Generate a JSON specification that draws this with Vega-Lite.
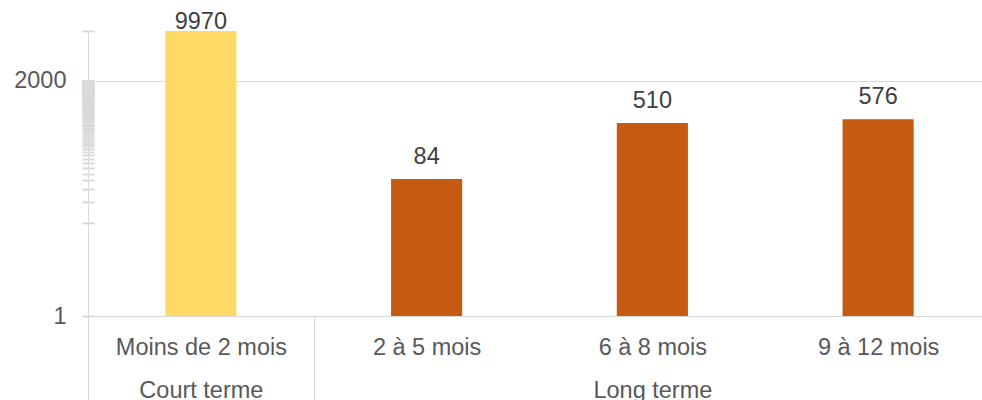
{
  "$schema": "https://vega.github.io/schema/vega-lite/v6.json",
  "width": 894,
  "height": 285,
  "autosize": {"type": "none"},
  "padding": {"left": 88, "top": 31, "right": 0, "bottom": 84},
  "background": "white",
  "config": {"view": {"stroke": null}, "font": "Liberation Sans"},
  "data": {
    "values": [
      {"periode": "Moins de 2 mois", "terme": "Court terme", "count": 9970},
      {"periode": "2 à 5 mois", "terme": "Long terme", "count": 84},
      {"periode": "6 à 8 mois", "terme": "Long terme", "count": 510},
      {"periode": "9 à 12 mois", "terme": "Long terme", "count": 576}
    ]
  },
  "encoding": {
    "x": {
      "field": "periode",
      "type": "nominal",
      "sort": null,
      "title": null,
      "scale": {"range": [0, 903], "paddingInner": 0.685, "paddingOuter": 0.3425},
      "axis": {
        "domainColor": "#d9d9d9",
        "domainWidth": 1,
        "tickBand": "center",
        "tickOffset": -112.875,
        "labelOffset": 112.875,
        "tickSize": 84,
        "tickWidth": 1,
        "tickColor": {
          "condition": {"test": "datum.value === 'Moins de 2 mois' || datum.value === '2 à 5 mois'", "value": "#d9d9d9"},
          "value": "transparent"
        },
        "labelPadding": -65,
        "labelAngle": 0,
        "labelFont": "Liberation Sans",
        "labelFontSize": 23.5,
        "labelColor": "#595959",
        "labelBaseline": "top",
        "labelLineHeight": 43,
        "labelExpr": "datum.value === 'Moins de 2 mois' ? ['Moins de 2 mois', 'Court terme'] : datum.value === '6 à 8 mois' ? ['6 à 8 mois', 'Long terme'] : datum.value"
      }
    }
  },
  "layer": [
    {
      "mark": {"type": "bar"},
      "encoding": {
        "y": {
          "field": "count",
          "type": "quantitative",
          "title": null,
          "scale": {"type": "log", "domain": [1, 10000], "nice": false},
          "axis": {
            "values": [1, 2000],
            "grid": true,
            "gridColor": "#d9d9d9",
            "gridWidth": 1,
            "ticks": false,
            "domain": true,
            "domainColor": "#d9d9d9",
            "labelPadding": 22,
            "labelFont": "Liberation Sans",
            "labelFontSize": 23.5,
            "labelColor": "#595959",
            "labelExpr": "datum.value"
          }
        },
        "y2": {"datum": 1},
        "color": {
          "field": "terme",
          "type": "nominal",
          "scale": {"domain": ["Court terme", "Long terme"], "range": ["#FFD966", "#C55A11"]},
          "legend": null
        }
      }
    },
    {
      "mark": {"type": "text", "font": "Liberation Sans", "fontSize": 23.5, "color": "#404040", "baseline": "alphabetic", "dy": {"expr": "datum.count > 5000 ? -2 : -15"}, "clip": false},
      "encoding": {
        "y": {
          "field": "count",
          "type": "quantitative",
          "axis": {
            "orient": "left",
            "offset": -6,
            "values": [1, 20, 40, 60, 80, 100, 120, 140, 160, 180, 200, 220, 240, 260, 280, 300, 320, 340, 360, 380, 400, 420, 440, 460, 480, 500, 520, 540, 560, 580, 600, 620, 640, 660, 680, 700, 720, 740, 760, 780, 800, 820, 840, 860, 880, 900, 920, 940, 960, 980, 1000, 1020, 1040, 1060, 1080, 1100, 1120, 1140, 1160, 1180, 1200, 1220, 1240, 1260, 1280, 1300, 1320, 1340, 1360, 1380, 1400, 1420, 1440, 1460, 1480, 1500, 1520, 1540, 1560, 1580, 1600, 1620, 1640, 1660, 1680, 1700, 1720, 1740, 1760, 1780, 1800, 1820, 1840, 1860, 1880, 1900, 1920, 1940, 1960, 1980, 2000, 10000],
            "grid": false,
            "domain": false,
            "labels": false,
            "ticks": true,
            "tickSize": 12,
            "tickWidth": 2,
            "tickColor": "#d9d9d9",
            "title": null
          }
        },
        "text": {"field": "count", "type": "quantitative", "format": "d"}
      }
    }
  ],
  "resolve": {"axis": {"y": "independent"}}
}
